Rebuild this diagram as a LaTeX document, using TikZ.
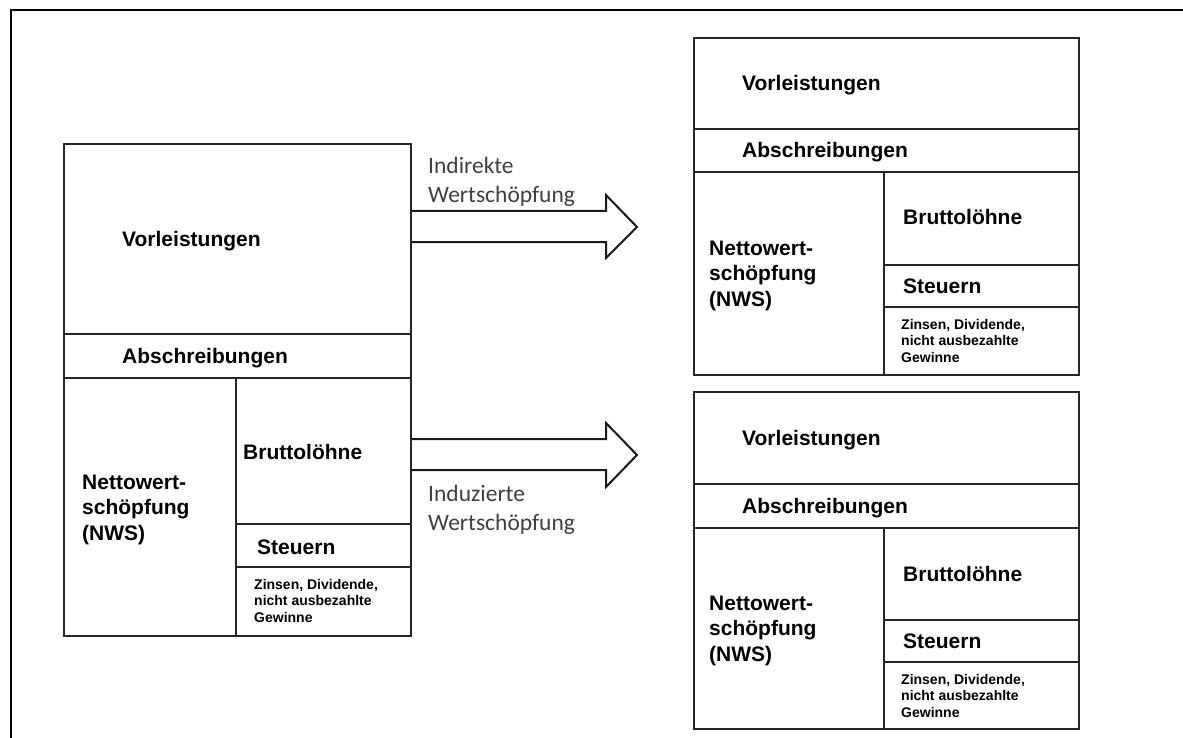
\documentclass[tikz,border=0pt]{standalone}
\usepackage{fontspec}
\setmainfont{Liberation Sans}
\newfontfamily\calfont{Carlito}
\usepackage{tikz}

\tikzset{
  block/.style={draw=black!85, line width=2pt, rectangle, anchor=north west, inner sep=0pt},
  divider/.style={draw=black!85, line width=2pt},
  cell/.style={font=\bfseries\fontsize{21}{25.5}\selectfont, anchor=base west, align=left, inner sep=0pt},
  small/.style={font=\bfseries\fontsize{14}{16.5}\selectfont, anchor=base west, align=left, inner sep=0pt},
  flow/.style={font=\calfont\fontsize{23.5}{29}\selectfont, text=black!75, anchor=base west, align=left, inner sep=0pt},
  fatarrow/.style={draw=black!90, line width=2pt, fill=white, line join=miter},
}

\begin{document}
\begin{tikzpicture}[x=1pt, y=-1pt]
        \useasboundingbox (0,0) rectangle (1183,738);
        % Frame
        \draw[line width=1.5pt] (11,738) -- (11,10) -- (1183,10);

        % Left block
        \node[block, minimum width=347pt, minimum height=492pt] (block1) at (63,143) {};
        \draw[divider] (63,334) -- (410,334);
        \draw[divider] (63,378) -- (410,378);
        \draw[divider] (236,378) -- (236,635);
        \draw[divider] (236,524) -- (410,524);
        \draw[divider] (236,567) -- (410,567);
        \node[cell] (vl1) at (122,247) {Vorleistungen};
        \node[cell] (ab1) at (122,363) {Abschreibungen};
        \node[cell] (nws1) at (82,540) {Nettowert-\\schöpfung\\(NWS)};
        \node[cell] (bl1) at (243,459) {Bruttolöhne};
        \node[cell] (st1) at (257,554) {Steuern};
        \node[small] (zi1) at (254,622) {Zinsen, Dividende,\\nicht ausbezahlte\\Gewinne};

        % Upper right block
        \node[block, minimum width=385pt, minimum height=337pt] (block2) at (693,37) {};
        \draw[divider] (693,129) -- (1078,129);
        \draw[divider] (693,172) -- (1078,172);
        \draw[divider] (884,172) -- (884,374);
        \draw[divider] (884,265) -- (1078,265);
        \draw[divider] (884,307) -- (1078,307);
        \node[cell] (vl2) at (742,91) {Vorleistungen};
        \node[cell] (ab2) at (742,158) {Abschreibungen};
        \node[cell] (nws2) at (709,306) {Nettowert-\\schöpfung\\(NWS)};
        \node[cell] (bl2) at (903,225) {Bruttolöhne};
        \node[cell] (st2) at (903,293) {Steuern};
        \node[small] (zi2) at (901,362) {Zinsen, Dividende,\\nicht ausbezahlte\\Gewinne};

        % Lower right block
        \node[block, minimum width=385pt, minimum height=337pt] (block3) at (693,391) {};
        \draw[divider] (693,484) -- (1078,484);
        \draw[divider] (693,528) -- (1078,528);
        \draw[divider] (884,528) -- (884,728);
        \draw[divider] (884,620) -- (1078,620);
        \draw[divider] (884,662) -- (1078,662);
        \node[cell] (vl3) at (742,445) {Vorleistungen};
        \node[cell] (ab3) at (742,513) {Abschreibungen};
        \node[cell] (nws3) at (709,661) {Nettowert-\\schöpfung\\(NWS)};
        \node[cell] (bl3) at (903,581) {Bruttolöhne};
        \node[cell] (st3) at (903,648) {Steuern};
        \node[small] (zi3) at (901,717) {Zinsen, Dividende,\\nicht ausbezahlte\\Gewinne};

        % Arrows
        \draw[fatarrow] (block1.east |- 0,211) -- (606,211) -- (606,195) -- (637,227) -- (606,258) -- (606,242) -- (block1.east |- 0,242);
        \draw[fatarrow] (block1.east |- 0,439) -- (606,439) -- (606,423) -- (637,455) -- (606,487) -- (606,470) -- (block1.east |- 0,470);
        \node[flow] (indirekt) at (428,203) {Indirekte\\Wertschöpfung};
        \node[flow] (induziert) at (428,530) {Induzierte\\Wertschöpfung};
    \end{tikzpicture}
\end{document}
